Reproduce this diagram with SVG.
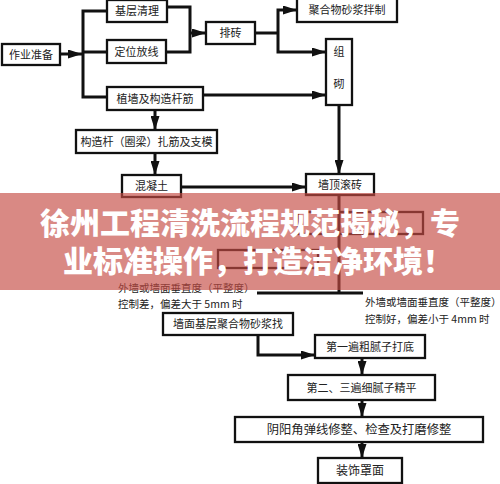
<svg xmlns="http://www.w3.org/2000/svg" width="500" height="484" viewBox="0 0 500 484">
<defs>
<marker id="ah" markerUnits="userSpaceOnUse" markerWidth="14" markerHeight="9" refX="14" refY="4.5" orient="auto">
<path d="M0,0 L14,4.5 L0,9 z" fill="#111"/>
</marker>
<style>
.box{fill:#fff;stroke:#111;stroke-width:2.3}
.t{font-family:"Noto Sans CJK SC","Noto Sans",sans-serif;font-size:11px;fill:#222;text-anchor:middle}
.t2{font-family:"Noto Sans CJK SC","Noto Sans",sans-serif;font-size:10.5px;fill:#222}
.c{fill:none;stroke:#111;stroke-width:3}
.a{marker-end:url(#ah)}
.ban{font-family:"Noto Sans CJK SC","Noto Sans",sans-serif;font-size:30px;font-weight:900;fill:#fff}
</style>
</defs>
<rect width="500" height="484" fill="#fff"/>
<g id="connectors">
<path class="c a" d="M60,54 H82"/>
<path class="c" d="M107,11 H83 V97 H107"/>
<path class="c" d="M83,52 H107"/>
<path class="c" d="M167,7 H190 V52 H166"/>
<path class="c a" d="M190,33 H206"/>
<path class="c" d="M255,33 H278"/>
<path class="c a" d="M278,33 V10 H297"/>
<path class="c a" d="M278,33 V52 H326"/>
<path class="c a" d="M203,95 H326"/>
<path class="c a" d="M155,110 V130"/>
<path class="c a" d="M155,153 V175"/>
<path class="c a" d="M181,187 H306"/>
<path class="c a" d="M339,105 V174"/>
<path class="c" d="M339,195 V293"/>
<path class="c" d="M257,293 H363"/>
<path class="c a" d="M258,335 V355 H315"/>
<path class="c a" d="M362,358 V375"/>
<path class="c a" d="M362,400 V417"/>
<path class="c a" d="M362,442 V458"/>
</g>
<g id="n-zuoye"><rect class="box" x="2" y="44" width="58" height="21"/><text class="t" x="31" y="58.5">作业准备</text></g>
<g id="n-jiceng"><rect class="box" x="107" y="0" width="60" height="22"/><text class="t" x="137" y="15">基层清理</text></g>
<g id="n-dingwei"><rect class="box" x="107" y="40" width="59" height="23"/><text class="t" x="136.5" y="55.5">定位放线</text></g>
<g id="n-zhiqiang"><rect class="box" x="107" y="87" width="96" height="23"/><text class="t" x="155" y="102.5">植墙及构造杆筋</text></g>
<g id="n-paizhuan"><rect class="box" x="206" y="22" width="49" height="22"/><text class="t" x="230.5" y="37">排砖</text></g>
<g id="n-juhewu"><rect class="box" x="297" y="-2" width="100" height="24"/><text class="t" x="347" y="14">聚合物砂浆拌制</text></g>
<g id="n-zuqi"><rect class="box" x="326" y="39" width="26" height="66"/><text class="t" x="339" y="56">组</text><text class="t" x="339" y="88">砌</text></g>
<g id="n-gouzao"><rect class="box" x="76" y="130" width="141" height="23"/><text class="t" x="146.5" y="145.5">构造杆（圈梁）扎筋及支模</text></g>
<g id="n-hunningtu"><rect class="box" x="122" y="175" width="59" height="22"/><text class="t" x="151.5" y="190">混凝土</text></g>
<g id="n-qiangding"><rect class="box" x="306" y="174" width="68" height="21"/><text class="t" x="340" y="188.5">墙顶滚砖</text></g>
<g id="n-hidden1"><rect class="box" x="298" y="212" width="125" height="22" style="fill:none"/></g>
<g id="n-hidden2"><rect class="box" x="218" y="250" width="100" height="18" style="fill:none"/></g>
<g id="n-qiangmian"><rect class="box" x="163" y="313" width="130" height="22"/><text class="t" x="228" y="328">墙面基层聚合物砂浆找</text></g>
<g id="n-diyi"><rect class="box" x="315" y="335" width="110" height="23"/><text class="t" x="370" y="350.5">第一遍粗腻子打底</text></g>
<g id="n-dier"><rect class="box" x="288" y="375" width="147" height="25"/><text class="t" x="361.5" y="391.5">第二、三遍细腻子精平</text></g>
<g id="n-yinyang"><rect class="box" x="235" y="417" width="248" height="25"/><text class="t" x="359" y="434" style="font-size:12.3px">阴阳角弹线修整、检查及打磨修整</text></g>
<g id="n-zhuangshi"><rect class="box" x="318" y="458" width="84" height="25"/><text class="t" x="360" y="475" style="font-size:12px">装饰罩面</text></g>
<g id="labels">
<text class="t2" x="118" y="292">外墙或墙面垂直度（平整度）</text>
<text class="t2" x="118" y="308">控制差，偏差大于 5mm 时</text>
<text class="t2" x="365" y="306">外墙或墙面垂直度（平整度）</text>
<text class="t2" x="365" y="323">控制好，偏差小于 4mm 时</text>
</g>
<g id="banner">
<rect x="0" y="193" width="500" height="97" fill="rgb(197,76,68)" fill-opacity="0.66"/>
<text class="ban" x="40" y="234">徐州工程清洗流程规范揭秘，专</text>
<text class="ban" x="63" y="272">业标准操作，打造洁净环境！</text>
</g>
</svg>
